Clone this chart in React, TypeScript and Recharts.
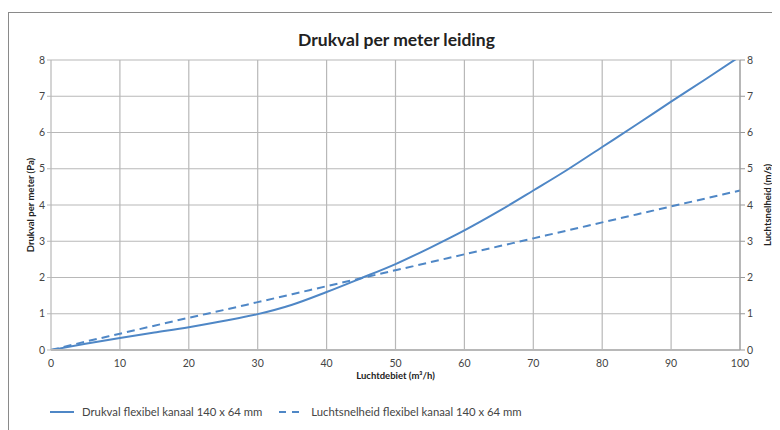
import React from "react";
import { LineChart, Line, XAxis, YAxis, CartesianGrid } from "recharts";

const debiet = [0, 5, 10, 15, 20, 25, 30, 35, 40, 45, 50, 55, 60, 65, 70, 75, 80, 85, 90, 95, 100];
const drukval = [0, 0.17, 0.33, 0.48, 0.63, 0.8, 0.99, 1.25, 1.6, 1.98, 2.37, 2.82, 3.3, 3.83, 4.4, 4.98, 5.6, 6.22, 6.85, 7.47, 8.1];
const snelheid = [0, 0.23, 0.45, 0.67, 0.89, 1.1, 1.32, 1.54, 1.76, 1.98, 2.2, 2.42, 2.64, 2.86, 3.08, 3.3, 3.52, 3.74, 3.96, 4.18, 4.4];
const xTicks = [0, 10, 20, 30, 40, 50, 60, 70, 80, 90, 100];
const yTicks = [0, 1, 2, 3, 4, 5, 6, 7, 8];

const series = [
  { key: "drukval", name: "Drukval flexibel kanaal 140 x 64 mm", axis: "left", dash: undefined },
  { key: "snelheid", name: "Luchtsnelheid flexibel kanaal 140 x 64 mm", axis: "right", dash: "8 5" },
];

const data = debiet.map((d, i) => ({ debiet: d, drukval: drukval[i], snelheid: snelheid[i] }));

const BLUE = "#4f87c6";
const FONT = "Lato, 'Noto Sans', sans-serif";
const tickStyle = { fill: "#444", fontSize: 10.5, fontFamily: FONT };

const axisTitle = (text: string, side: "left" | "right") => (props: any) => {
  const vb = props.viewBox;
  const x = side === "left" ? vb.x + 19 : vb.x + 27;
  const y = vb.y + vb.height / 2;
  return (
    <text
      x={x}
      y={y}
      transform={`rotate(-90 ${x} ${y})`}
      textAnchor="middle"
      dominantBaseline="central"
      fontSize={9.5}
      fontWeight={700}
      fontFamily={FONT}
      fill="#222"
    >
      {text}
    </text>
  );
};

export default function App() {
  return (
    <div
      style={{
        position: "relative",
        width: 790,
        height: 430,
        marginTop: 4,
        borderLeft: "1.5px solid #8a8a8a",
        borderTop: "1.5px solid #8a8a8a",
        boxSizing: "border-box",
        fontFamily: FONT,
      }}
    >
      <div
        style={{
          position: "absolute",
          top: 16,
          left: 2,
          width: 771,
          textAlign: "center",
          fontSize: 17.5,
          fontWeight: 700,
          color: "#222",
        }}
      >
        Drukval per meter leiding
      </div>
      <LineChart
        width={771}
        height={400}
        data={data}
        margin={{ top: 47, right: 0, left: 2, bottom: 0 }}
      >
        <CartesianGrid yAxisId="left" stroke="#b8b8b8" strokeWidth={1.2} verticalValues={xTicks} />
        <XAxis
          dataKey="debiet"
          type="number"
          domain={[0, 100]}
          ticks={xTicks}
          tick={tickStyle}
          tickLine={false}
          axisLine={{ stroke: "#b8b8b8", strokeWidth: 2 }}
          tickMargin={4}
          height={63}
          label={{
            value: "Luchtdebiet (m³/h)",
            position: "insideTop",
            offset: 22,
            fontSize: 9.5,
            fontWeight: 700,
            fill: "#222",
            fontFamily: FONT,
          }}
        />
        <YAxis
          yAxisId="left"
          domain={[0, 8]}
          ticks={yTicks}
          allowDataOverflow
          tick={tickStyle}
          tickSize={4}
          tickLine={{ stroke: "#b8b8b8" }}
          axisLine={false}
          width={40}
          label={{ content: axisTitle("Drukval per meter (Pa)", "left") }}
        />
        <YAxis
          yAxisId="right"
          orientation="right"
          domain={[0, 8]}
          ticks={yTicks}
          allowDataOverflow
          tick={tickStyle}
          tickSize={5}
          tickLine={{ stroke: "#999" }}
          axisLine={{ stroke: "#999" }}
          width={40}
          label={{ content: axisTitle("Luchtsnelheid (m/s)", "right") }}
        />
        {series.map((s) => (
          <Line
            key={s.key}
            yAxisId={s.axis}
            type="monotone"
            dataKey={s.key}
            name={s.name}
            stroke={BLUE}
            strokeWidth={2}
            strokeDasharray={s.dash}
            dot={false}
            isAnimationActive={false}
          />
        ))}
      </LineChart>
      <div
        style={{
          position: "absolute",
          top: 392,
          left: 41,
          display: "flex",
          alignItems: "center",
          fontSize: 11.3,
          color: "#444",
        }}
      >
        {series.map((s, i) => (
          <div key={s.key} style={{ display: "flex", alignItems: "center", marginRight: i === 0 ? 17 : 0 }}>
            <svg width={24} height={6} style={{ marginRight: 8 }}>
              <line x1={0} y1={3} x2={24} y2={3} stroke={BLUE} strokeWidth={2} strokeDasharray={s.dash ? "7 6" : undefined} />
            </svg>
            <span>{s.name}</span>
          </div>
        ))}
      </div>
    </div>
  );
}
